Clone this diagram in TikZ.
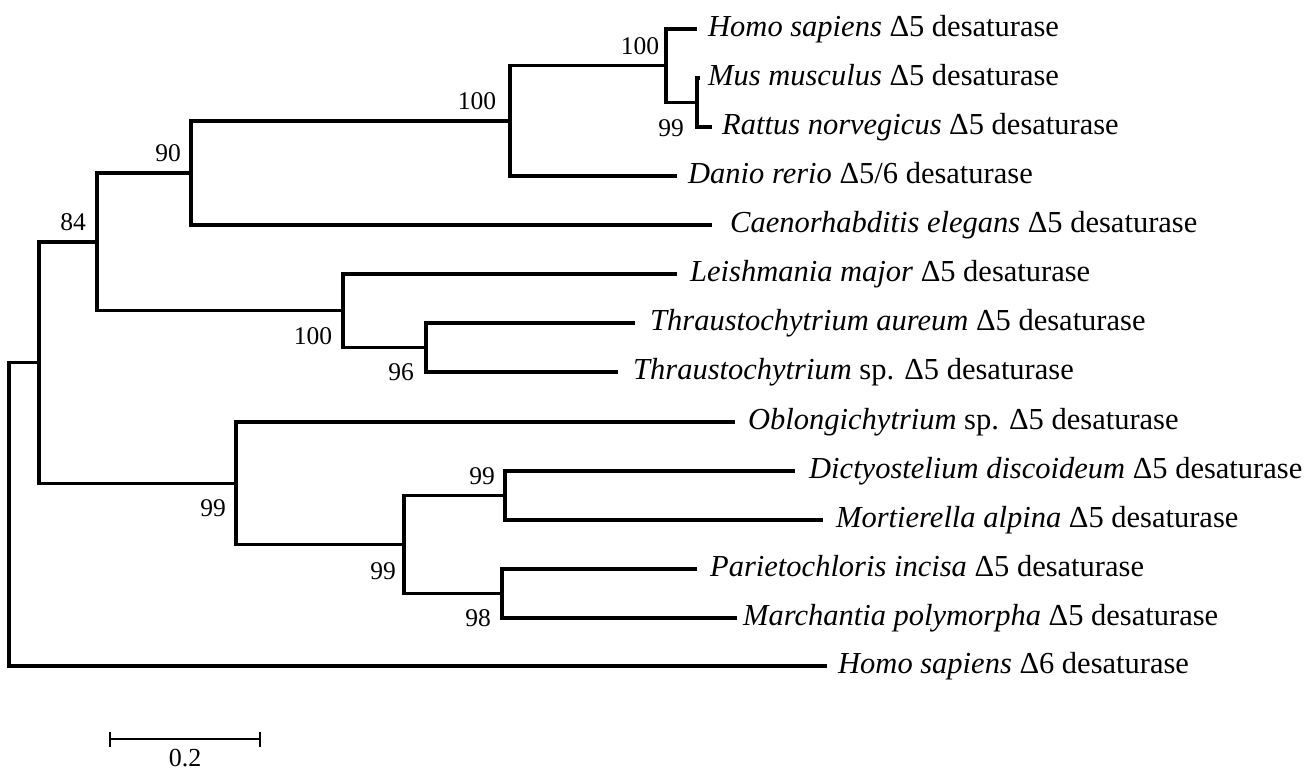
\documentclass[tikz,border=0pt]{standalone}
\usepackage{fontspec}
\setmainfont{Liberation Serif}
\tikzset{
  br/.style={line width=3.2pt, line join=miter},
  leaf/.style={anchor=base west, inner sep=0pt, font=\fontsize{30.5}{36}\selectfont},
  boot/.style={inner sep=0pt, font=\fontsize{25.5}{30}\selectfont}
}
\begin{document}
\begin{tikzpicture}[x=1pt,y=-1pt]
\useasboundingbox (0,0) rectangle (1308,771);
% internal nodes
\coordinate (R) at (9,362.6);
\coordinate (F) at (39,362.6);
\coordinate (E) at (97,241.9);
\coordinate (D) at (191,173);
\coordinate (A) at (510,120.9);
\coordinate (B) at (666,65.75);
\coordinate (C) at (697,102.5);
\coordinate (K) at (343,310.75);
\coordinate (L) at (426,347.5);
\coordinate (G) at (236,483.25);
\coordinate (H) at (404,544.5);
\coordinate (I) at (505,495.5);
\coordinate (J) at (502,593.5);
% leaf tips
\coordinate (t1) at (697,29);
\coordinate (t2) at (700,78);
\coordinate (t3) at (712,127);
\coordinate (t4) at (677,176);
\coordinate (t5) at (712,225);
\coordinate (t6) at (677,274);
\coordinate (t7) at (635,323);
\coordinate (t8) at (618,372);
\coordinate (t9) at (735,422);
\coordinate (t10) at (795,471);
\coordinate (t11) at (823,520);
\coordinate (t12) at (697,569);
\coordinate (t13) at (737,618);
\coordinate (t14) at (827,666);
% branches
\draw[br] (F) -- (R) |- (t14);
\draw[br] (F) |- (E);
\draw[br] (F) |- (G);
\draw[br] (E) |- (D);
\draw[br] (E) |- (K);
\draw[br] (D) |- (A);
\draw[br] (D) |- (t5);
\draw[br] (A) |- (B);
\draw[br] (A) |- (t4);
\draw[br] (B) |- (t1);
\draw[br] (B) |- (C);
\draw[br] (C) |- (t2);
\draw[br] (C) |- (t3);
\draw[br] (K) |- (t6);
\draw[br] (K) |- (L);
\draw[br] (L) |- (t7);
\draw[br] (L) |- (t8);
\draw[br] (G) |- (t9);
\draw[br] (G) |- (H);
\draw[br] (H) |- (I);
\draw[br] (H) |- (J);
\draw[br] (I) |- (t10);
\draw[br] (I) |- (t11);
\draw[br] (J) |- (t12);
\draw[br] (J) |- (t13);
% leaf labels
\node[leaf] (n1) at (708,36) {\textit{Homo sapiens} Δ5 desaturase};
\node[leaf] (n2) at (708,85) {\textit{Mus musculus} Δ5 desaturase};
\node[leaf] (n3) at (722,134) {\textit{Rattus norvegicus} Δ5 desaturase};
\node[leaf] (n4) at (688,183) {\textit{Danio rerio} Δ5/6 desaturase};
\node[leaf] (n5) at (730,232) {\textit{Caenorhabditis elegans} Δ5 desaturase};
\node[leaf] (n6) at (690,281) {\textit{Leishmania major} Δ5 desaturase};
\node[leaf] (n7) at (650,330) {\textit{Thraustochytrium aureum} Δ5 desaturase};
\node[leaf] (n8) at (633,379) {\textit{Thraustochytrium} sp. Δ5 desaturase};
\node[leaf] (n9) at (748,429) {\textit{Oblongichytrium} sp. Δ5 desaturase};
\node[leaf] (n10) at (809,478) {\textit{Dictyostelium discoideum} Δ5 desaturase};
\node[leaf] (n11) at (836,527) {\textit{Mortierella alpina} Δ5 desaturase};
\node[leaf] (n12) at (710,576) {\textit{Parietochloris incisa} Δ5 desaturase};
\node[leaf] (n13) at (743,625) {\textit{Marchantia polymorpha} Δ5 desaturase};
\node[leaf] (n14) at (838,673) {\textit{Homo sapiens} Δ6 desaturase};
% bootstrap values
\node[boot] (bB) at (640,46) {100};
\node[boot] (bA) at (477,101) {100};
\node[boot] (bC) at (671,128) {99};
\node[boot] (bD) at (168,153) {90};
\node[boot] (bE) at (73,222) {84};
\node[boot] (bK) at (313,336) {100};
\node[boot] (bL) at (401,372) {96};
\node[boot] (bG) at (213,508) {99};
\node[boot] (bH) at (383,571) {99};
\node[boot] (bI) at (482,476) {99};
\node[boot] (bJ) at (478,618) {98};
% scale bar
\coordinate (s1) at (110,739);
\coordinate (s2) at (260,739);
\draw[br, line width=2.8pt] (s1) -- (s2);
\draw[br, line width=2.8pt] ([yshift=-7.5pt]s1) -- ([yshift=7.5pt]s1);
\draw[br, line width=2.8pt] ([yshift=-7.5pt]s2) -- ([yshift=7.5pt]s2);
\node[boot, font=\fontsize{26}{30}\selectfont] (sl) at (185,758) {0.2};
\end{tikzpicture}
\end{document}
